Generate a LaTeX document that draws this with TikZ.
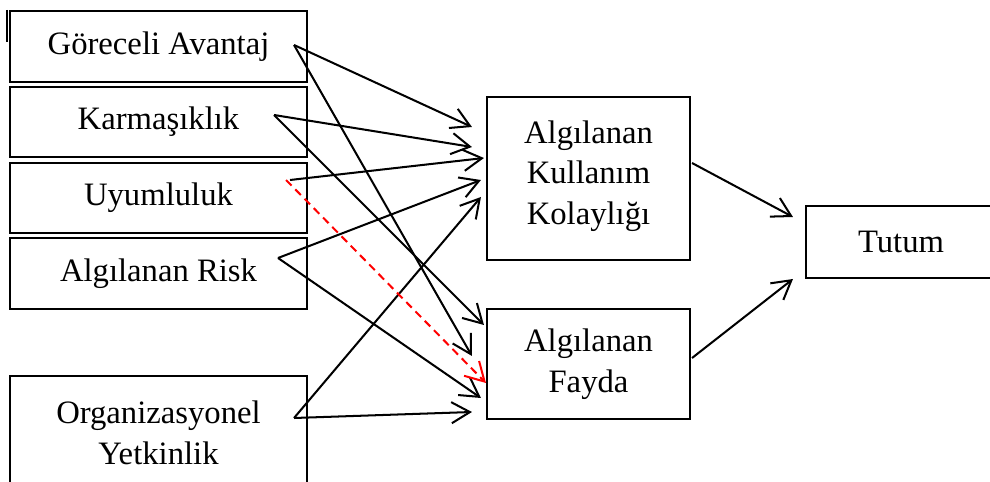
\documentclass[tikz,border=0pt]{standalone}
\usepackage{fontspec}
\setmainfont{Liberation Serif}
\usepackage{xcolor}
\usetikzlibrary{arrows.meta,calc}

\begin{document}
\begin{tikzpicture}[x=0.02cm,y=-0.02cm,
  box/.style={draw,line width=1.2pt,inner sep=0pt,align=center,font=\fontsize{18.6}{23}\selectfont},
  arr/.style={-{Straight Barb[length=10.5pt,width=12pt]},line width=1.15pt}]
\useasboundingbox (0,0) rectangle (990,482);
\clip (0,0) rectangle (990,482);
% left column: factors
\node[box,minimum width=5.94cm,minimum height=1.42cm] (ga) at (158.5,46.5) {Göreceli Avantaj};
\node[box,minimum width=5.94cm,minimum height=1.40cm] (km) at (158.5,122) {Karmaşıklık};
\node[box,minimum width=5.94cm,minimum height=1.40cm] (uy) at (158.5,198) {Uyumluluk};
\node[box,minimum width=5.94cm,minimum height=1.42cm] (rk) at (158.5,273.5) {Algılanan Risk};
\node[box,minimum width=5.94cm,minimum height=2.28cm] (oy) at (158.5,433) {Organizasyonel\\Yetkinlik};
\draw[line width=1.2pt] ($(ga.north west)+(-2,0)$) -- ++(0,32);
% middle and right
\node[box,minimum width=4.06cm,minimum height=3.26cm] (akk) at (588.5,178.5) {Algılanan\\Kullanım\\Kolaylığı\\[-16pt]{}};
\node[box,minimum width=4.06cm,minimum height=2.20cm] (af) at (588.5,364) {Algılanan\\Fayda};
\node[box,minimum width=3.80cm,minimum height=1.44cm] (tu) at (901,242) {Tutum};
% start points inside the factor boxes
\coordinate (ga-o) at ($(ga.east)+(-14,-1.5)$);
\coordinate (km-o) at ($(km.east)+(-34,-7)$);
\coordinate (uy-o) at ($(uy.east)+(-18,-18)$);
\coordinate (uy-r) at ($(uy.east)+(-22,-18)$);
\coordinate (rk-o) at ($(rk.east)+(-30,-15.5)$);
\coordinate (oy-o) at ($(oy.east)+(-14,-15)$);
% factor -> perceived ease of use / usefulness
\foreach \src/\dst/\dx/\dy in {ga-o/akk/-14/-51.5, km-o/akk/-14/-31.5, uy-o/akk/-2/-20.5,
                               rk-o/akk/-5/1.5, oy-o/akk/-5/18.5,
                               ga-o/af/-14/-8, km-o/af/-2/-39, rk-o/af/-5/34, oy-o/af/-14/48}
  \draw[arr] (\src) -- ($(\dst.west)+(\dx,\dy)$);
\draw[arr,red,dash pattern=on 4.5pt off 3pt] (uy-r) -- ($(af.west)+(0,19)$);
% -> attitude
\draw[arr] ($(akk.east)+(1,-15.5)$) -- ($(tu.west)+(-12,-25)$);
\draw[arr] ($(af.east)+(1,-6)$) -- ($(tu.west)+(-12,37)$);
\end{tikzpicture}
\end{document}
